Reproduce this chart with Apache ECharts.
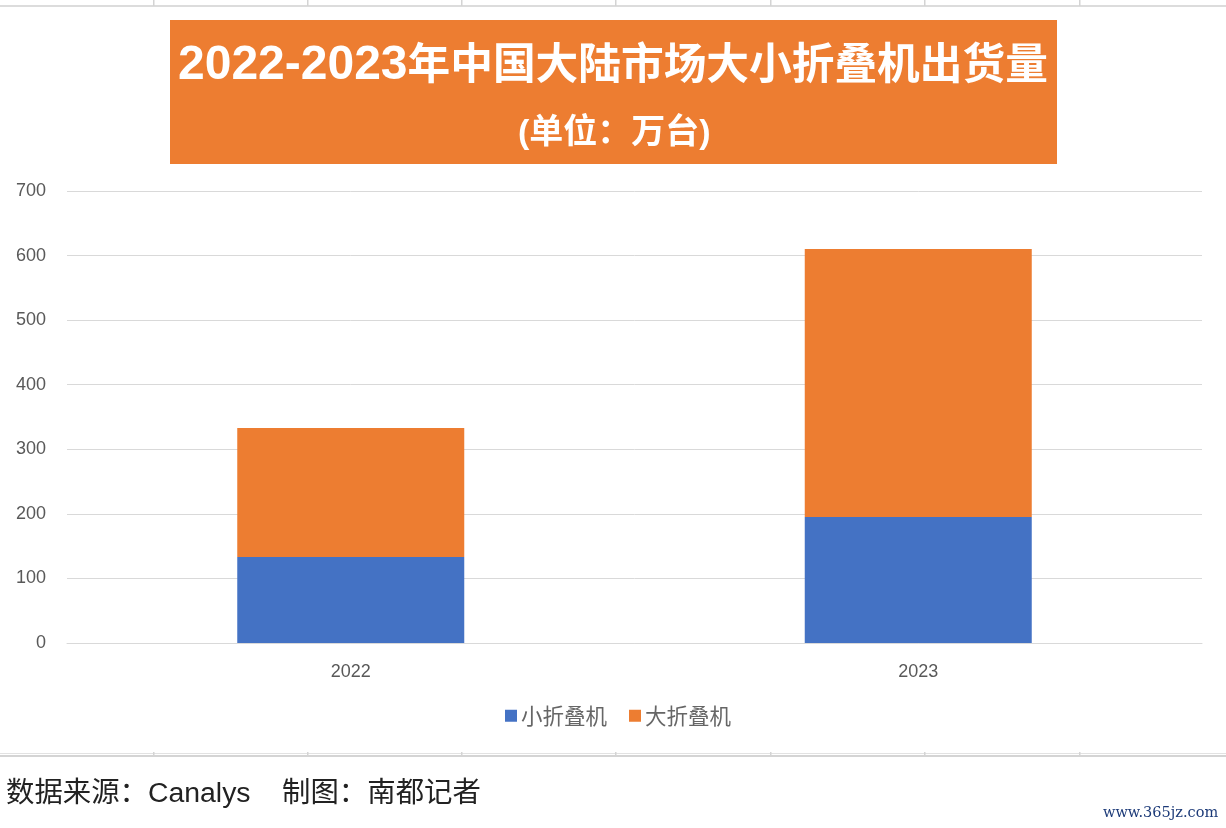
<!DOCTYPE html>
<html>
<head>
<meta charset="utf-8">
<title>2022-2023年中国大陆市场大小折叠机出货量</title>
<style>
    html, body { margin: 0; padding: 0; background: #fff; }
    #chart { width: 1226px; height: 828px; }
</style>
<script src="https://cdn.jsdelivr.net/npm/echarts@6/dist/echarts.min.js"></script>
</head>
<body>
<div id="chart"></div>
<script>
var years = ['2022', '2023'];
var smallFold = [133, 195];
var largeFold = [200, 415];
var yTicks = [0, 100, 200, 300, 400, 500, 600, 700];
// 表格线上的小刻度
var sheetTicks = [153, 307, 461, 615, 770, 924, 1079];

var cjk = '"Noto Sans CJK SC", sans-serif';
// 西文用 Liberation Sans，中文回退到 Noto
var mixed = '"Liberation Sans", "Noto Sans CJK SC", sans-serif';

(function () {
    var myCharts = echarts.init(document.getElementById('chart'));

    // 上下两条表格线
    var lines = [
        { type: 'rect', shape: { x: 0, y: 5, width: 1226, height: 2 }, style: { fill: '#dcdcdc' } },
        { type: 'rect', shape: { x: 0, y: 753, width: 1226, height: 1 }, style: { fill: '#e2e2e2' } },
        { type: 'rect', shape: { x: 0, y: 755, width: 1226, height: 2 }, style: { fill: '#d4d4d4' } }
    ];
    sheetTicks.forEach(function (x) {
        lines.push({ type: 'rect', shape: { x: x, y: 0, width: 1.5, height: 6 }, style: { fill: '#d4d4d4' } });
        lines.push({ type: 'rect', shape: { x: x, y: 752, width: 1.5, height: 3 }, style: { fill: '#d4d4d4' } });
    });

    var option = {
        animation: false,
        backgroundColor: '#fff',
        title: [{
            text: '{num|2022-2023}{han|年中国大陆市场大小折叠机出货量}',
            left: 178,
            top: 35,
            padding: 0,
            textStyle: {
                rich: {
                    num: { color: '#fff', fontFamily: mixed, fontWeight: 'bold', fontSize: 48, padding: [7, 0, 0, 0] },
                    han: { color: '#fff', fontFamily: cjk, fontWeight: 'bold', fontSize: 42.7 }
                }
            }
        }, {
            text: '(单位：万台)',
            left: 518,
            top: 117,
            padding: 0,
            textStyle: { color: '#fff', fontFamily: mixed, fontWeight: 'bold', fontSize: 34 }
        }, {
            text: '数据来源：Canalys    制图：南都记者',
            left: 6,
            top: 780,
            padding: 0,
            textStyle: { color: '#222', fontFamily: mixed, fontWeight: 'normal', fontSize: 28.4 }
        }, {
            text: 'www.365jz.com',
            left: 1103,
            top: 806,
            padding: 0,
            textStyle: { color: '#1c3a78', fontFamily: '"DejaVu Serif", serif', fontWeight: 'normal', fontSize: 14.5 }
        }],
        grid: { left: 67, right: 24, top: 191, bottom: 185 },
        legend: {
            top: 700,
            left: 500,
            icon: 'rect',
            itemWidth: 12,
            itemHeight: 12,
            itemGap: 22,
            textStyle: { color: '#666', fontFamily: cjk, fontSize: 21.5, padding: [0, 0, 0, -1] },
            data: ['小折叠机', '大折叠机']
        },
        xAxis: {
            type: 'category',
            data: years,
            axisTick: { show: false },
            axisLine: { lineStyle: { color: '#d9d9d9', width: 1 } },
            axisLabel: { color: '#595959', fontFamily: mixed, fontSize: 18, margin: 20 }
        },
        yAxis: {
            type: 'value',
            min: yTicks[0],
            max: yTicks[yTicks.length - 1],
            interval: 100,
            axisLine: { show: false },
            axisTick: { show: false },
            axisLabel: { color: '#595959', fontFamily: mixed, fontSize: 18, margin: 21 },
            splitLine: { lineStyle: { color: '#d9d9d9', width: 1 } }
        },
        series: [{
            name: '小折叠机',
            type: 'bar',
            stack: 'total',
            barWidth: '40%',
            itemStyle: { color: '#4472c4' },
            data: smallFold
        }, {
            name: '大折叠机',
            type: 'bar',
            stack: 'total',
            barWidth: '40%',
            itemStyle: { color: '#ed7d31' },
            data: largeFold
        }],
        graphic: [{
            type: 'rect',
            z: -1,
            shape: { x: 170, y: 20, width: 887, height: 144 },
            style: { fill: '#ed7d31' }
        }].concat(lines)
    };

    myCharts.setOption(option);
})();
</script>
</body>
</html>
